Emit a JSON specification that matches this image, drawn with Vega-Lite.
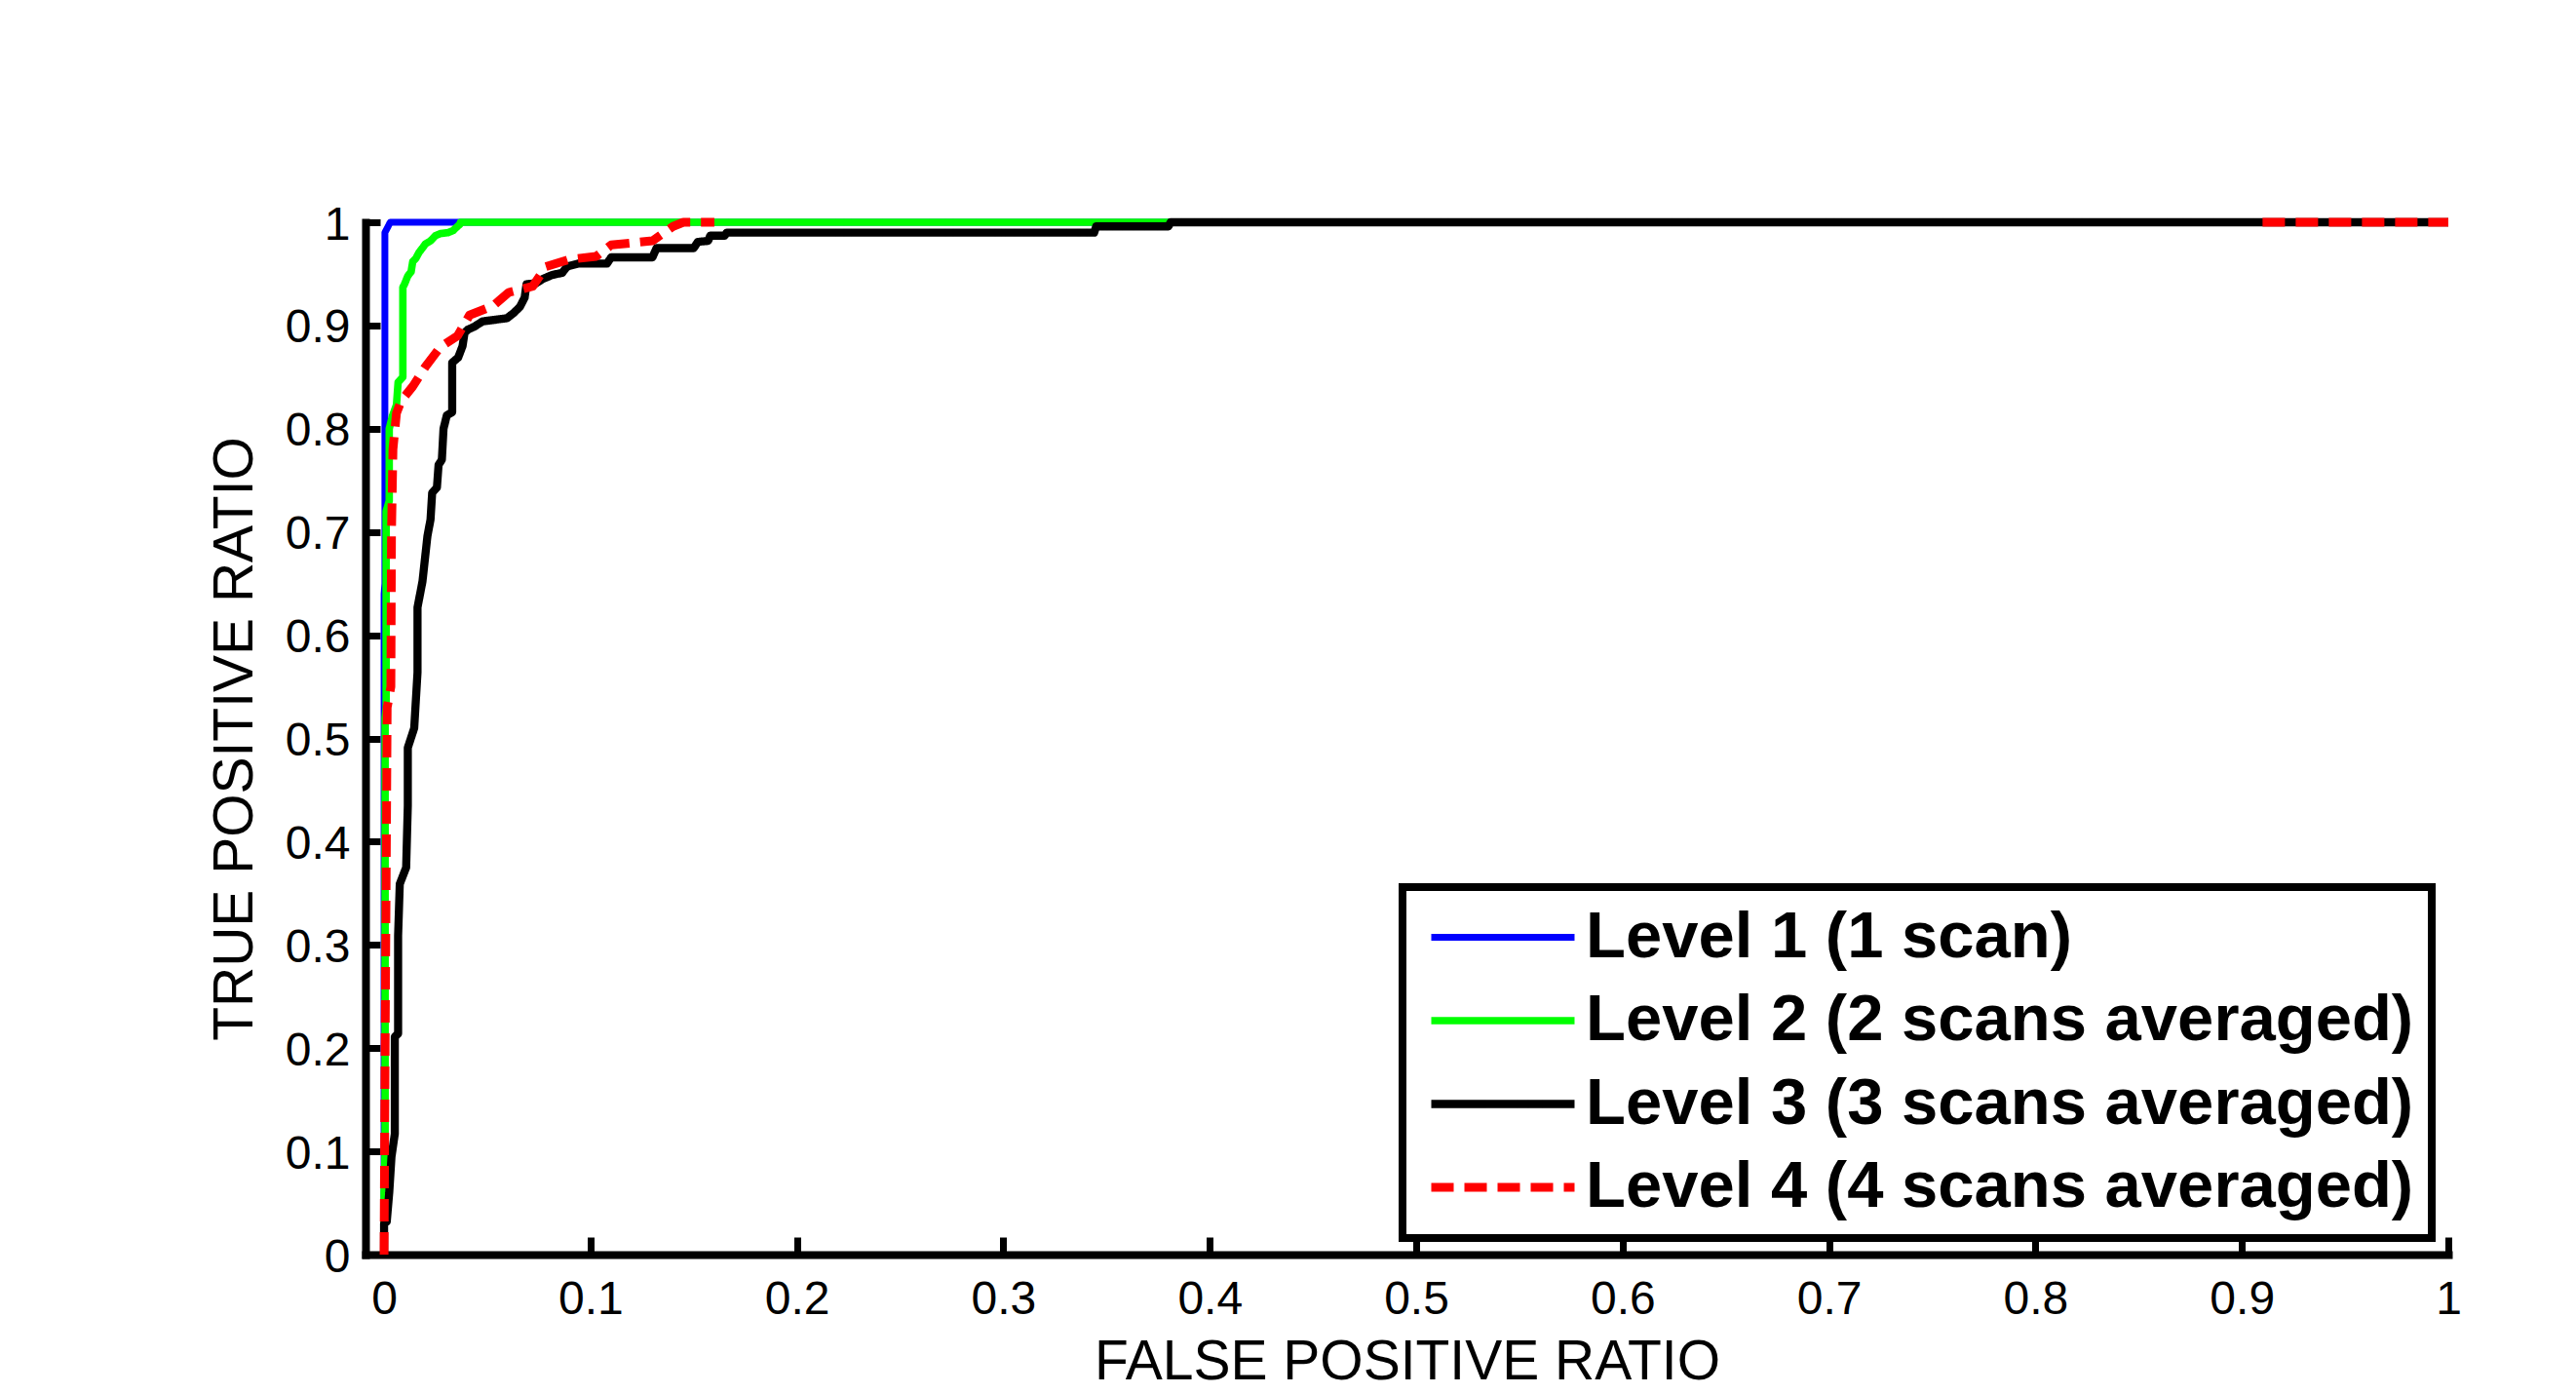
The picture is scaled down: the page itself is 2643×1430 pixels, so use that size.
{
  "$schema": "https://vega.github.io/schema/vega-lite/v6.json",
  "width": 2137,
  "height": 1059,
  "autosize": {"type": "none"},
  "padding": {"left": 375, "top": 228, "right": 131, "bottom": 143},
  "background": "white",
  "config": {
    "view": {"stroke": null},
    "font": "Liberation Sans",
    "legend": {
      "title": null,
      "orient": "bottom-right",
      "offset": 17,
      "symbolType": "stroke",
      "symbolSize": 21609,
      "symbolStrokeWidth": 9,
      "symbolOffset": 7,
      "labelOffset": 7,
      "labelFont": "Liberation Sans",
      "labelFontSize": 67,
      "labelFontWeight": "bold",
      "labelColor": "black",
      "labelLimit": 2000,
      "padding": 18,
      "rowPadding": 17.5,
      "clipHeight": 67,
      "strokeColor": "black",
      "strokeWidth": 8,
      "fillColor": "white"
    }
  },
  "data": {
    "values": [
      {"series": "Level 1 (1 scan)", "fpr": 0, "tpr": 0},
      {"series": "Level 1 (1 scan)", "fpr": 0, "tpr": 0.64},
      {"series": "Level 1 (1 scan)", "fpr": 0.0004, "tpr": 0.65},
      {"series": "Level 1 (1 scan)", "fpr": 0.0004, "tpr": 0.99},
      {"series": "Level 1 (1 scan)", "fpr": 0.003, "tpr": 1},
      {"series": "Level 1 (1 scan)", "fpr": 1, "tpr": 1},

      {"series": "Level 2 (2 scans averaged)", "fpr": 0, "tpr": 0},
      {"series": "Level 2 (2 scans averaged)", "fpr": 0, "tpr": 0.06},
      {"series": "Level 2 (2 scans averaged)", "fpr": 0.0005, "tpr": 0.1},
      {"series": "Level 2 (2 scans averaged)", "fpr": 0.0005, "tpr": 0.52},
      {"series": "Level 2 (2 scans averaged)", "fpr": 0.001, "tpr": 0.53},
      {"series": "Level 2 (2 scans averaged)", "fpr": 0.001, "tpr": 0.72},
      {"series": "Level 2 (2 scans averaged)", "fpr": 0.0025, "tpr": 0.73},
      {"series": "Level 2 (2 scans averaged)", "fpr": 0.0025, "tpr": 0.8},
      {"series": "Level 2 (2 scans averaged)", "fpr": 0.004, "tpr": 0.812},
      {"series": "Level 2 (2 scans averaged)", "fpr": 0.006, "tpr": 0.823},
      {"series": "Level 2 (2 scans averaged)", "fpr": 0.0068, "tpr": 0.845},
      {"series": "Level 2 (2 scans averaged)", "fpr": 0.0091, "tpr": 0.85},
      {"series": "Level 2 (2 scans averaged)", "fpr": 0.0091, "tpr": 0.937},
      {"series": "Level 2 (2 scans averaged)", "fpr": 0.0099, "tpr": 0.94},
      {"series": "Level 2 (2 scans averaged)", "fpr": 0.0115, "tpr": 0.948},
      {"series": "Level 2 (2 scans averaged)", "fpr": 0.0131, "tpr": 0.952},
      {"series": "Level 2 (2 scans averaged)", "fpr": 0.0139, "tpr": 0.962},
      {"series": "Level 2 (2 scans averaged)", "fpr": 0.0154, "tpr": 0.965},
      {"series": "Level 2 (2 scans averaged)", "fpr": 0.017, "tpr": 0.971},
      {"series": "Level 2 (2 scans averaged)", "fpr": 0.0186, "tpr": 0.975},
      {"series": "Level 2 (2 scans averaged)", "fpr": 0.02, "tpr": 0.979},
      {"series": "Level 2 (2 scans averaged)", "fpr": 0.0225, "tpr": 0.982},
      {"series": "Level 2 (2 scans averaged)", "fpr": 0.0249, "tpr": 0.987},
      {"series": "Level 2 (2 scans averaged)", "fpr": 0.0272, "tpr": 0.989},
      {"series": "Level 2 (2 scans averaged)", "fpr": 0.031, "tpr": 0.99},
      {"series": "Level 2 (2 scans averaged)", "fpr": 0.0335, "tpr": 0.992},
      {"series": "Level 2 (2 scans averaged)", "fpr": 0.035, "tpr": 0.995},
      {"series": "Level 2 (2 scans averaged)", "fpr": 0.0367, "tpr": 0.998},
      {"series": "Level 2 (2 scans averaged)", "fpr": 0.037, "tpr": 1},
      {"series": "Level 2 (2 scans averaged)", "fpr": 1, "tpr": 1},

      {"series": "Level 3 (3 scans averaged)", "fpr": 0, "tpr": 0},
      {"series": "Level 3 (3 scans averaged)", "fpr": 0, "tpr": 0.03},
      {"series": "Level 3 (3 scans averaged)", "fpr": 0.0013, "tpr": 0.032},
      {"series": "Level 3 (3 scans averaged)", "fpr": 0.0025, "tpr": 0.06},
      {"series": "Level 3 (3 scans averaged)", "fpr": 0.0036, "tpr": 0.095},
      {"series": "Level 3 (3 scans averaged)", "fpr": 0.0052, "tpr": 0.117},
      {"series": "Level 3 (3 scans averaged)", "fpr": 0.0052, "tpr": 0.211},
      {"series": "Level 3 (3 scans averaged)", "fpr": 0.0068, "tpr": 0.214},
      {"series": "Level 3 (3 scans averaged)", "fpr": 0.0068, "tpr": 0.309},
      {"series": "Level 3 (3 scans averaged)", "fpr": 0.0076, "tpr": 0.359},
      {"series": "Level 3 (3 scans averaged)", "fpr": 0.0107, "tpr": 0.375},
      {"series": "Level 3 (3 scans averaged)", "fpr": 0.0115, "tpr": 0.435},
      {"series": "Level 3 (3 scans averaged)", "fpr": 0.0115, "tpr": 0.491},
      {"series": "Level 3 (3 scans averaged)", "fpr": 0.0146, "tpr": 0.51},
      {"series": "Level 3 (3 scans averaged)", "fpr": 0.0162, "tpr": 0.564},
      {"series": "Level 3 (3 scans averaged)", "fpr": 0.0162, "tpr": 0.627},
      {"series": "Level 3 (3 scans averaged)", "fpr": 0.0186, "tpr": 0.652},
      {"series": "Level 3 (3 scans averaged)", "fpr": 0.021, "tpr": 0.696},
      {"series": "Level 3 (3 scans averaged)", "fpr": 0.0225, "tpr": 0.712},
      {"series": "Level 3 (3 scans averaged)", "fpr": 0.0233, "tpr": 0.738},
      {"series": "Level 3 (3 scans averaged)", "fpr": 0.0256, "tpr": 0.743},
      {"series": "Level 3 (3 scans averaged)", "fpr": 0.0264, "tpr": 0.765},
      {"series": "Level 3 (3 scans averaged)", "fpr": 0.028, "tpr": 0.77},
      {"series": "Level 3 (3 scans averaged)", "fpr": 0.0288, "tpr": 0.8},
      {"series": "Level 3 (3 scans averaged)", "fpr": 0.0304, "tpr": 0.813},
      {"series": "Level 3 (3 scans averaged)", "fpr": 0.033, "tpr": 0.816},
      {"series": "Level 3 (3 scans averaged)", "fpr": 0.033, "tpr": 0.864},
      {"series": "Level 3 (3 scans averaged)", "fpr": 0.0359, "tpr": 0.869},
      {"series": "Level 3 (3 scans averaged)", "fpr": 0.038, "tpr": 0.88},
      {"series": "Level 3 (3 scans averaged)", "fpr": 0.039, "tpr": 0.893},
      {"series": "Level 3 (3 scans averaged)", "fpr": 0.0406, "tpr": 0.896},
      {"series": "Level 3 (3 scans averaged)", "fpr": 0.0438, "tpr": 0.899},
      {"series": "Level 3 (3 scans averaged)", "fpr": 0.0477, "tpr": 0.904},
      {"series": "Level 3 (3 scans averaged)", "fpr": 0.0516, "tpr": 0.905},
      {"series": "Level 3 (3 scans averaged)", "fpr": 0.0595, "tpr": 0.907},
      {"series": "Level 3 (3 scans averaged)", "fpr": 0.0627, "tpr": 0.912},
      {"series": "Level 3 (3 scans averaged)", "fpr": 0.0658, "tpr": 0.918},
      {"series": "Level 3 (3 scans averaged)", "fpr": 0.0681, "tpr": 0.927},
      {"series": "Level 3 (3 scans averaged)", "fpr": 0.069, "tpr": 0.94},
      {"series": "Level 3 (3 scans averaged)", "fpr": 0.0737, "tpr": 0.941},
      {"series": "Level 3 (3 scans averaged)", "fpr": 0.0768, "tpr": 0.945},
      {"series": "Level 3 (3 scans averaged)", "fpr": 0.0815, "tpr": 0.949},
      {"series": "Level 3 (3 scans averaged)", "fpr": 0.0863, "tpr": 0.951},
      {"series": "Level 3 (3 scans averaged)", "fpr": 0.0886, "tpr": 0.957},
      {"series": "Level 3 (3 scans averaged)", "fpr": 0.0941, "tpr": 0.96},
      {"series": "Level 3 (3 scans averaged)", "fpr": 0.108, "tpr": 0.96},
      {"series": "Level 3 (3 scans averaged)", "fpr": 0.11, "tpr": 0.966},
      {"series": "Level 3 (3 scans averaged)", "fpr": 0.13, "tpr": 0.966},
      {"series": "Level 3 (3 scans averaged)", "fpr": 0.132, "tpr": 0.975},
      {"series": "Level 3 (3 scans averaged)", "fpr": 0.15, "tpr": 0.975},
      {"series": "Level 3 (3 scans averaged)", "fpr": 0.152, "tpr": 0.981},
      {"series": "Level 3 (3 scans averaged)", "fpr": 0.157, "tpr": 0.982},
      {"series": "Level 3 (3 scans averaged)", "fpr": 0.158, "tpr": 0.987},
      {"series": "Level 3 (3 scans averaged)", "fpr": 0.165, "tpr": 0.987},
      {"series": "Level 3 (3 scans averaged)", "fpr": 0.166, "tpr": 0.99},
      {"series": "Level 3 (3 scans averaged)", "fpr": 0.344, "tpr": 0.99},
      {"series": "Level 3 (3 scans averaged)", "fpr": 0.345, "tpr": 0.996},
      {"series": "Level 3 (3 scans averaged)", "fpr": 0.38, "tpr": 0.996},
      {"series": "Level 3 (3 scans averaged)", "fpr": 0.381, "tpr": 1},
      {"series": "Level 3 (3 scans averaged)", "fpr": 1, "tpr": 1},

      {"series": "Level 4 (4 scans averaged)", "fpr": 0, "tpr": 0},
      {"series": "Level 4 (4 scans averaged)", "fpr": 0.0005, "tpr": 0.2},
      {"series": "Level 4 (4 scans averaged)", "fpr": 0.001, "tpr": 0.36},
      {"series": "Level 4 (4 scans averaged)", "fpr": 0.0015, "tpr": 0.53},
      {"series": "Level 4 (4 scans averaged)", "fpr": 0.0033, "tpr": 0.55},
      {"series": "Level 4 (4 scans averaged)", "fpr": 0.0036, "tpr": 0.7},
      {"series": "Level 4 (4 scans averaged)", "fpr": 0.0043, "tpr": 0.78},
      {"series": "Level 4 (4 scans averaged)", "fpr": 0.006, "tpr": 0.815},
      {"series": "Level 4 (4 scans averaged)", "fpr": 0.0083, "tpr": 0.827},
      {"series": "Level 4 (4 scans averaged)", "fpr": 0.0139, "tpr": 0.841},
      {"series": "Level 4 (4 scans averaged)", "fpr": 0.02, "tpr": 0.86},
      {"series": "Level 4 (4 scans averaged)", "fpr": 0.0272, "tpr": 0.879},
      {"series": "Level 4 (4 scans averaged)", "fpr": 0.0356, "tpr": 0.89},
      {"series": "Level 4 (4 scans averaged)", "fpr": 0.0414, "tpr": 0.91},
      {"series": "Level 4 (4 scans averaged)", "fpr": 0.0529, "tpr": 0.919},
      {"series": "Level 4 (4 scans averaged)", "fpr": 0.0603, "tpr": 0.932},
      {"series": "Level 4 (4 scans averaged)", "fpr": 0.072, "tpr": 0.938},
      {"series": "Level 4 (4 scans averaged)", "fpr": 0.0784, "tpr": 0.957},
      {"series": "Level 4 (4 scans averaged)", "fpr": 0.0897, "tpr": 0.964},
      {"series": "Level 4 (4 scans averaged)", "fpr": 0.1028, "tpr": 0.967},
      {"series": "Level 4 (4 scans averaged)", "fpr": 0.11, "tpr": 0.978},
      {"series": "Level 4 (4 scans averaged)", "fpr": 0.13, "tpr": 0.982},
      {"series": "Level 4 (4 scans averaged)", "fpr": 0.14, "tpr": 0.996},
      {"series": "Level 4 (4 scans averaged)", "fpr": 0.145, "tpr": 1},
      {"series": "Level 4 (4 scans averaged)", "fpr": 0.16, "tpr": 1},
      {"series": "Level 4 (4 scans averaged)", "fpr": 0.5, "tpr": null},
      {"series": "Level 4 (4 scans averaged)", "fpr": 0.91, "tpr": 1},
      {"series": "Level 4 (4 scans averaged)", "fpr": 1, "tpr": 1}
    ]
  },
  "mark": {"type": "line", "strokeJoin": "round", "clip": false},
  "encoding": {
    "x": {
      "field": "fpr",
      "type": "quantitative",
      "scale": {"domain": [-0.009, 1], "nice": false, "zero": false},
      "axis": {
        "title": "FALSE POSITIVE RATIO",
        "values": [0, 0.1, 0.2, 0.3, 0.4, 0.5, 0.6, 0.7, 0.8, 0.9, 1],
        "format": "~g",
        "grid": false,
        "domainColor": "black",
        "domainWidth": 8,
        "domainCap": "square",
        "tickColor": "black",
        "tickWidth": 7,
        "tickSize": -18,
        "labelPadding": 40,
        "labelFlush": false,
        "labelOverlap": false,
        "labelFont": "Liberation Sans",
        "labelFontSize": 48,
        "labelColor": "black",
        "titleFont": "Liberation Sans",
        "titleFontSize": 57,
        "titleFontWeight": "normal",
        "titleColor": "black",
        "titlePadding": 12
      }
    },
    "y": {
      "field": "tpr",
      "type": "quantitative",
      "scale": {"domain": [0, 1], "nice": false},
      "axis": {
        "title": "TRUE POSITIVE RATIO",
        "values": [0, 0.1, 0.2, 0.3, 0.4, 0.5, 0.6, 0.7, 0.8, 0.9, 1],
        "format": "~g",
        "grid": false,
        "domainColor": "black",
        "domainWidth": 8,
        "domainCap": "square",
        "tickColor": "black",
        "tickWidth": 7,
        "tickSize": -15,
        "labelPadding": 31,
        "labelOffset": 3,
        "labelFlush": false,
        "labelOverlap": false,
        "labelFont": "Liberation Sans",
        "labelFontSize": 48,
        "labelColor": "black",
        "titleFont": "Liberation Sans",
        "titleFontSize": 57,
        "titleFontWeight": "normal",
        "titleColor": "black",
        "titlePadding": 22
      }
    },
    "color": {
      "field": "series",
      "type": "nominal",
      "scale": {
        "domain": ["Level 1 (1 scan)", "Level 2 (2 scans averaged)", "Level 3 (3 scans averaged)", "Level 4 (4 scans averaged)"],
        "range": ["#0000FF", "#00FF00", "#000000", "#FF0000"]
      },
      "legend": {"title": null}
    },
    "strokeDash": {
      "field": "series",
      "type": "nominal",
      "scale": {
        "domain": ["Level 1 (1 scan)", "Level 2 (2 scans averaged)", "Level 3 (3 scans averaged)", "Level 4 (4 scans averaged)"],
        "range": [[1, 0], [1, 0], [1, 0], [23, 11]]
      },
      "legend": {"title": null}
    },
    "strokeWidth": {
      "field": "series",
      "type": "nominal",
      "scale": {
        "domain": ["Level 1 (1 scan)", "Level 2 (2 scans averaged)", "Level 3 (3 scans averaged)", "Level 4 (4 scans averaged)"],
        "range": [7, 9, 9, 9]
      },
      "legend": null
    },
    "order": {"value": null}
  }
}
